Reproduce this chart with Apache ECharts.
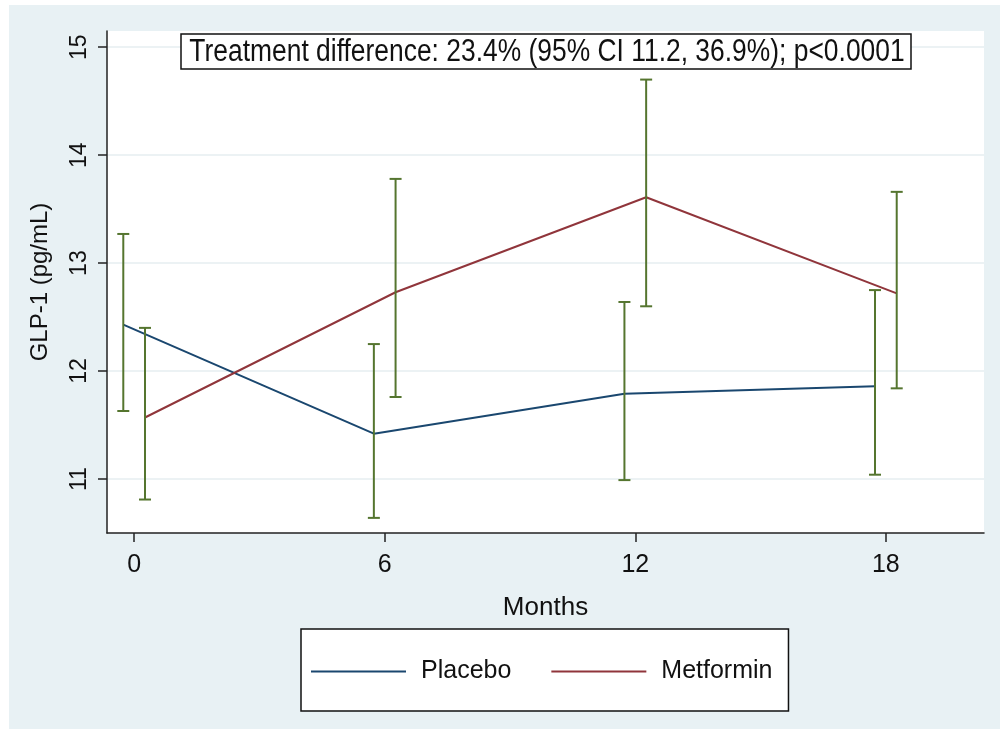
<!DOCTYPE html>
<html>
<head>
<meta charset="utf-8">
<script src="https://cdn.jsdelivr.net/npm/echarts@6/dist/echarts.min.js"></script>
<style>
  html, body { margin: 0; padding: 0; background: #ffffff; }
  #chart { width: 1000px; height: 729px; }
</style>
</head>
<body>
<div id="chart"></div>
<script>
// months of follow-up
var months = [0, 6, 12, 18]
var yTicks = [11, 12, 13, 14, 15]

// GLP-1 (pg/mL), mean and 95% CI
var placeboMean = [12.43, 11.42, 11.79, 11.86]
var placeboLow = [11.63, 10.64, 10.99, 11.04]
var placeboHigh = [13.27, 12.25, 12.64, 12.75]

var metforminMean = [11.57, 12.73, 13.61, 12.72]
var metforminLow = [10.81, 11.76, 12.60, 11.84]
var metforminHigh = [12.40, 13.78, 14.70, 13.66]

var note = 'Treatment difference: 23.4% (95% CI 11.2, 36.9%); p<0.0001'

// groups are drawn a little apart so the bars don't overlap
var shift = 0.26
var font = "'Liberation Sans', Arial, sans-serif"

function pts(mean, dx) {
  return months.map(function (m, i) { return [m + dx, mean[i]] })
}
function bars(low, high, dx) {
  return months.map(function (m, i) { return [m + dx, low[i], high[i]] })
}

function renderBar(params, api) {
  var top = api.coord([api.value(0), api.value(2)])
  var bot = api.coord([api.value(0), api.value(1)])
  var w = 6
  var style = { stroke: '#55752f', lineWidth: 2 }
  return {
    type: 'group',
    children: [
      { type: 'line', shape: { x1: top[0], y1: top[1], x2: bot[0], y2: bot[1] }, style: style },
      { type: 'line', shape: { x1: top[0] - w, y1: top[1], x2: top[0] + w, y2: top[1] }, style: style },
      { type: 'line', shape: { x1: bot[0] - w, y1: bot[1], x2: bot[0] + w, y2: bot[1] }, style: style }
    ]
  }
}

var chart = echarts.init(document.getElementById('chart'), null, { renderer: 'canvas' })

var option = {
  animation: false,
  backgroundColor: 'transparent',
  graphic: [
    {
      type: 'rect',
      z: -100,
      shape: { x: 9, y: 5, width: 991, height: 724 },
      style: { fill: '#e8f1f4' }
    },
    {
      type: 'rect',
      z: 100,
      shape: { x: 181, y: 34, width: 730, height: 35 },
      style: { fill: '#ffffff', stroke: '#111111', lineWidth: 1.5 }
    },
    {
      // stata draws this in a narrow face, so squeeze it sideways
      type: 'text',
      z: 101,
      x: 547,
      y: 52,
      scaleX: 0.852,
      style: {
        text: note,
        fontFamily: font,
        fontSize: 31,
        fill: '#111111',
        align: 'center',
        verticalAlign: 'middle'
      }
    }
  ],
  grid: {
    left: 107,
    right: 16,
    top: 31,
    bottom: 196,
    show: true,
    backgroundColor: '#ffffff',
    borderWidth: 0
  },
  legend: {
    data: ['Placebo', 'Metformin'],
    left: 301,
    top: 629,
    backgroundColor: '#ffffff',
    borderColor: '#111111',
    borderWidth: 1.5,
    padding: [30, 16, 27, 10],
    icon: 'rect',
    itemWidth: 95,
    itemHeight: 2,
    itemGap: 40,
    textStyle: { fontFamily: font, fontSize: 25, color: '#111111', padding: [0, 0, 0, 10] }
  },
  xAxis: {
    type: 'value',
    min: -0.65,
    max: 20.35,
    name: 'Months',
    nameLocation: 'middle',
    nameGap: 62,
    nameTextStyle: { fontFamily: font, fontSize: 26, color: '#111111' },
    axisLine: { show: true, onZero: false, lineStyle: { color: '#222222', width: 1.5 } },
    axisTick: { show: true, inside: false, length: 9, customValues: months, lineStyle: { color: '#222222', width: 1.5 } },
    axisLabel: { customValues: months, margin: 20, fontFamily: font, fontSize: 25, color: '#111111' },
    splitLine: { show: false }
  },
  yAxis: {
    type: 'value',
    min: 10.5,
    max: 15.15,
    name: 'GLP-1 (pg/mL)',
    nameLocation: 'middle',
    nameRotate: 90,
    nameGap: 55,
    nameTextStyle: { fontFamily: font, fontSize: 24, color: '#111111' },
    axisLine: { show: true, onZero: false, lineStyle: { color: '#222222', width: 1.5 } },
    axisTick: { show: true, inside: false, length: 9, customValues: yTicks, lineStyle: { color: '#222222', width: 1.5 } },
    axisLabel: { customValues: yTicks, rotate: 90, margin: 16, fontFamily: font, fontSize: 23, color: '#111111' },
    splitLine: { show: true, lineStyle: { color: '#e6eef1', width: 1.5 } }
  },
  series: [
    {
      name: 'Placebo',
      type: 'line',
      data: pts(placeboMean, -shift),
      symbol: 'none',
      lineStyle: { color: '#1a476f', width: 2 },
      itemStyle: { color: '#1a476f' },
      z: 3
    },
    {
      name: 'Metformin',
      type: 'line',
      data: pts(metforminMean, shift),
      symbol: 'none',
      lineStyle: { color: '#90353b', width: 2 },
      itemStyle: { color: '#90353b' },
      z: 3
    },
    {
      name: 'Placebo CI',
      type: 'custom',
      renderItem: renderBar,
      data: bars(placeboLow, placeboHigh, -shift),
      encode: { x: 0, y: [1, 2] },
      z: 4
    },
    {
      name: 'Metformin CI',
      type: 'custom',
      renderItem: renderBar,
      data: bars(metforminLow, metforminHigh, shift),
      encode: { x: 0, y: [1, 2] },
      z: 4
    }
  ]
}

chart.setOption(option)
</script>
</body>
</html>
